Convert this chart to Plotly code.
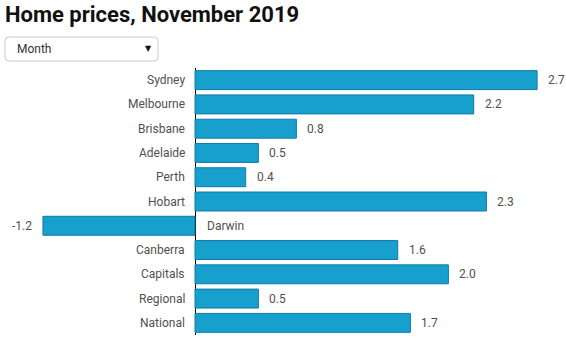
import plotly.graph_objects as go

categories = ["Sydney", "Melbourne", "Brisbane", "Adelaide", "Perth", "Hobart",
              "Darwin", "Canberra", "Capitals", "Regional", "National"]
values = [2.7, 2.2, 0.8, 0.5, 0.4, 2.3, -1.2, 1.6, 2.0, 0.5, 1.7]

W, H = 566, 338
T, B = 68, 3
plot_h = H - T - B

BAR = "#179fce"
EDGE = "#0e7aa5"
TXT = "#505050"
FONT = "Roboto"

fig = go.Figure(go.Bar(
    x=values, y=categories, orientation="h",
    marker=dict(color=BAR, line=dict(color=EDGE, width=1)),
    hoverinfo="skip",
))

ann = []
for c, v in zip(categories, values):
    ann.append(dict(x=0, y=c, xref="x", yref="y", text=c, showarrow=False,
                    xanchor="right" if v >= 0 else "left",
                    xshift=-8 if v >= 0 else 10,
                    font=dict(family=FONT, size=12, color=TXT)))
    ann.append(dict(x=v, y=c, xref="x", yref="y", text=f"{v:.1f}", showarrow=False,
                    xanchor="left" if v >= 0 else "right",
                    xshift=9 if v >= 0 else -9,
                    font=dict(family=FONT, size=12, color=TXT)))

def py(p):
    return (H - B - p) / plot_h

def px(p):
    return p / W

x0, x1, y0, y1, r = 5, 158, 37, 61, 4
path = (f"M {px(x0+r)},{py(y0)} L {px(x1-r)},{py(y0)} Q {px(x1)},{py(y0)} {px(x1)},{py(y0+r)} "
        f"L {px(x1)},{py(y1-r)} Q {px(x1)},{py(y1)} {px(x1-r)},{py(y1)} "
        f"L {px(x0+r)},{py(y1)} Q {px(x0)},{py(y1)} {px(x0)},{py(y1-r)} "
        f"L {px(x0)},{py(y0+r)} Q {px(x0)},{py(y0)} {px(x0+r)},{py(y0)} Z")
shapes = [dict(type="path", xref="paper", yref="paper", path=path,
               line=dict(color="#cccccc", width=1), fillcolor="white")]
ann.append(dict(x=px(15), y=py(49), xref="paper", yref="paper", text="Month",
                showarrow=False, xanchor="left", yanchor="middle",
                font=dict(family=FONT, size=12, color="#333333")))
ann.append(dict(x=px(148), y=py(48), xref="paper", yref="paper", text="▼",
                showarrow=False, xanchor="center", yanchor="middle",
                font=dict(family="DejaVu Sans", size=8, color="#111111")))

fig.update_layout(
    width=W, height=H,
    margin=dict(l=0, r=0, t=T, b=B),
    paper_bgcolor="white", plot_bgcolor="white",
    title=dict(text="<b>Home prices, November 2019</b>", x=5 / W, xanchor="left",
               y=1 - 14 / H, yanchor="middle",
               font=dict(family=FONT, size=22, color="#111111")),
    xaxis=dict(range=[-195 / 126.7, (W - 195) / 126.7], showgrid=False, showticklabels=False,
               zeroline=True, zerolinecolor="#000000", zerolinewidth=1, fixedrange=True),
    yaxis=dict(autorange="reversed", showticklabels=False, showgrid=False, fixedrange=True),
    bargap=0.22,
    annotations=ann,
    shapes=shapes,
    showlegend=False,
)

fig.write_html("out.html")
